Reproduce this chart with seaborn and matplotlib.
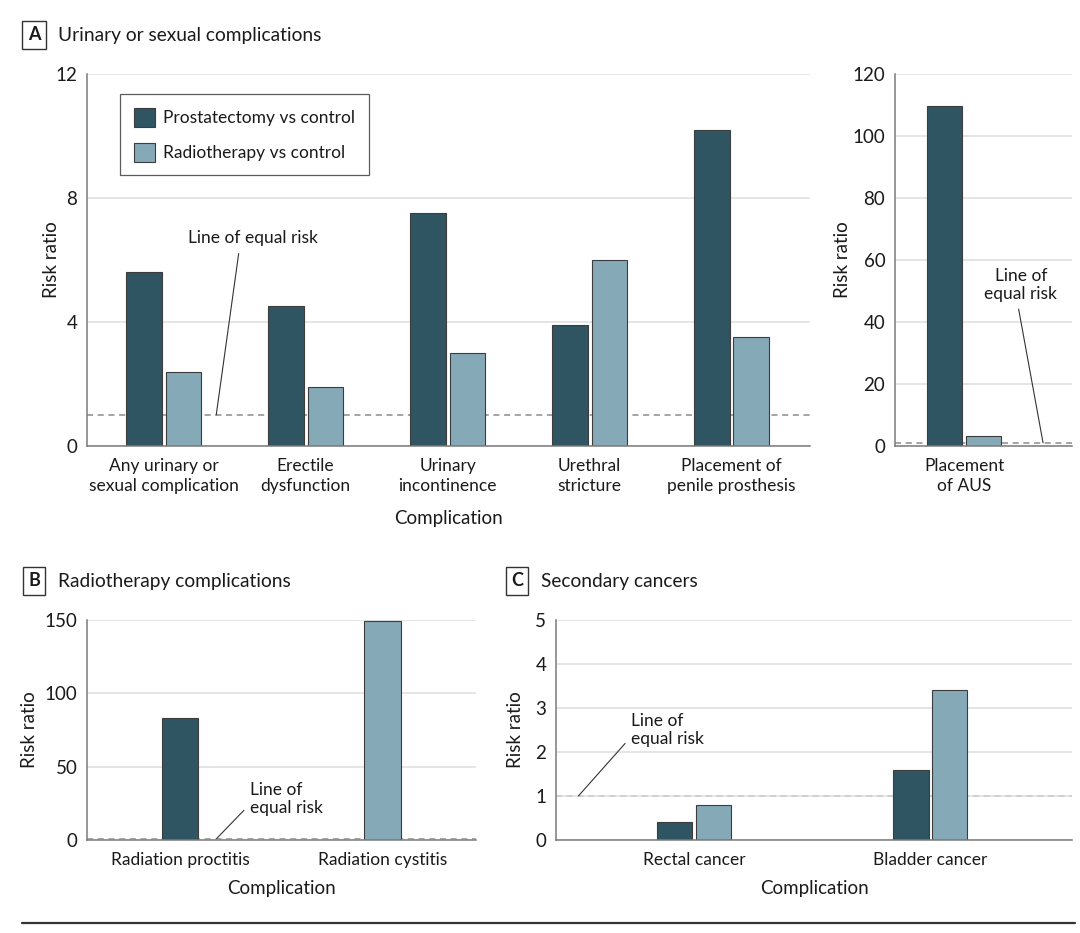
import numpy as np
import pandas as pd
import matplotlib
matplotlib.use("Agg")
import matplotlib.pyplot as plt
from matplotlib.lines import Line2D
import seaborn as sns

# panel A - urinary or sexual complications
urinary_labels = ["Any urinary or\nsexual complication", "Erectile\ndysfunction",
                  "Urinary\nincontinence", "Urethral\nstricture",
                  "Placement of\npenile prosthesis"]
prost_urinary = [5.6, 4.5, 7.5, 3.9, 10.2]
radio_urinary = [2.4, 1.9, 3.0, 6.0, 3.5]

# panel A (right) - artificial urinary sphincter
aus_labels = ["Placement\nof AUS"]
prost_aus = [109.7]
radio_aus = [3.2]

# panel B - radiotherapy complications
radiation_labels = ["Radiation proctitis", "Radiation cystitis"]
radiation_values = [83.0, 149.0]

# panel C - secondary cancers
cancer_labels = ["Rectal cancer", "Bladder cancer"]
prost_cancer = [0.4, 1.6]
radio_cancer = [0.8, 3.4]

series_names = ["Prostatectomy vs control", "Radiotherapy vs control"]

DARK = "#2f5562"
LIGHT = "#86a9b8"
EDGE = "#3c3c3c"
SPINE = "#7a7a7a"
GRID = "#dedede"
DASH = "#8c8c8c"
TEXT = "#1a1a1a"

sns.set_theme(style="white")
plt.rcParams["font.family"] = ["Lato", "DejaVu Sans"]
plt.rcParams["text.color"] = TEXT
plt.rcParams["axes.labelcolor"] = TEXT
plt.rcParams["xtick.color"] = TEXT
plt.rcParams["ytick.color"] = TEXT


def paired_frame(labels, first, second):
    return pd.DataFrame({
        "complication": labels * 2,
        "comparison": [series_names[0]] * len(labels) + [series_names[1]] * len(labels),
        "rr": first + second,
    })


def style_axes(ax, ymax, yticks, xlim, label_x):
    ax.set_ylim(0, ymax)
    ax.set_yticks(yticks)
    ax.set_xlim(*xlim)
    ax.grid(axis="y", color=GRID, lw=1.1)
    ax.grid(axis="x", visible=False)
    ax.set_axisbelow(True)
    for side in ["top", "right"]:
        ax.spines[side].set_visible(False)
    for side in ["left", "bottom"]:
        ax.spines[side].set_color(SPINE)
        ax.spines[side].set_linewidth(1.1)
    ax.tick_params(axis="x", length=0, labelsize=12.5, pad=9)
    ax.tick_params(axis="y", length=5, width=1, color=SPINE, labelsize=13.5, pad=2)
    for lab in ax.get_xticklabels():
        lab.set_linespacing(1.3)
    ax.set_ylabel("Risk ratio", fontsize=13.5)
    ax.yaxis.set_label_coords(label_x, 0.5)
    ax.axhline(1, color=DASH, lw=1.1, ls=(0, (4, 3)), zorder=0.5)


def equal_risk_note(ax, text, xy, xytext, ha, relpos):
    ax.annotate(text, xy=xy, xytext=xytext, ha=ha, va="center", fontsize=12.5,
                linespacing=1.15,
                arrowprops=dict(arrowstyle="-", color="#333333", lw=0.8,
                                shrinkA=3, shrinkB=0, relpos=relpos))


fig = plt.figure(figsize=(10.8, 9.33), dpi=100)

# ---- panel A main
ax_a = fig.add_axes([0.0806, 0.522, 0.669, 0.399])
df_a = paired_frame(urinary_labels, prost_urinary, radio_urinary)
sns.barplot(data=df_a, x="complication", y="rr", hue="comparison",
            palette=[DARK, LIGHT], saturation=1, width=0.56, gap=0.1,
            edgecolor=EDGE, linewidth=0.8, errorbar=None, ax=ax_a)
style_axes(ax_a, 12, [0, 4, 8, 12], (-0.54, 4.55), -0.037)
ax_a.set_xlabel("Complication", fontsize=13.5, labelpad=11)
leg = ax_a.legend(loc="upper left", bbox_to_anchor=(0.046, 0.945), fontsize=12.5,
                  frameon=True, fancybox=False, edgecolor="#333333",
                  handlelength=1.2, handleheight=1.3, borderpad=0.8,
                  labelspacing=0.9, handletextpad=0.45, borderaxespad=0)
leg.get_frame().set_linewidth(0.9)
equal_risk_note(ax_a, "Line of equal risk", (0.37, 1), (0.627, 6.7), "center", (0.4, 0))

# ---- panel A right (AUS)
ax_aus = fig.add_axes([0.8287, 0.522, 0.164, 0.399])
df_aus = paired_frame(aus_labels, prost_aus, radio_aus)
sns.barplot(data=df_aus, x="complication", y="rr", hue="comparison",
            palette=[DARK, LIGHT], saturation=1, width=0.56, gap=0.1,
            edgecolor=EDGE, linewidth=0.8, errorbar=None, legend=False, ax=ax_aus)
style_axes(ax_aus, 120, [0, 20, 40, 60, 80, 100, 120], (-0.5, 0.78), -0.249)
ax_aus.set_xlabel("")
equal_risk_note(ax_aus, "Line of\nequal risk", (0.57, 1), (0.41, 52), "center", (0.45, 0))

# ---- panel B
ax_b = fig.add_axes([0.0806, 0.0997, 0.360, 0.236])
df_b = pd.DataFrame({"complication": radiation_labels, "rr": radiation_values})
sns.barplot(data=df_b, x="complication", y="rr", hue="complication",
            palette=[DARK, LIGHT], saturation=1, width=0.18, edgecolor=EDGE,
            linewidth=0.8, errorbar=None, legend=False, ax=ax_b)
style_axes(ax_b, 150, [0, 50, 100, 150], (-0.46, 1.46), -0.126)
ax_b.set_xlabel("Complication", fontsize=13.5, labelpad=8)
equal_risk_note(ax_b, "Line of\nequal risk", (0.18, 1), (0.345, 28), "left", (0, 0.35))

# ---- panel C
ax_c = fig.add_axes([0.5148, 0.0997, 0.478, 0.236])
df_c = paired_frame(cancer_labels, prost_cancer, radio_cancer)
sns.barplot(data=df_c, x="complication", y="rr", hue="comparison",
            palette=[DARK, LIGHT], saturation=1, width=0.33, gap=0.1,
            edgecolor=EDGE, linewidth=0.8, errorbar=None, legend=False, ax=ax_c)
style_axes(ax_c, 5, [0, 1, 2, 3, 4, 5], (-0.585, 1.6), -0.062)
ax_c.set_xlabel("Complication", fontsize=13.5, labelpad=8)
equal_risk_note(ax_c, "Line of\nequal risk", (-0.49, 1), (-0.267, 2.5), "left", (0, 0.3))

# ---- panel headers
box = dict(boxstyle="square,pad=0.3", fc="white", ec="#333333", lw=1)
headers = [("A", "Urinary or sexual complications", 0.0315, 0.0537, 1 - 35 / 933),
           ("B", "Radiotherapy complications", 0.0315, 0.0537, 1 - 581 / 933),
           ("C", "Secondary cancers", 0.4787, 0.501, 1 - 581 / 933)]
for letter, title, bx, tx, ty in headers:
    fig.text(bx, ty, letter, fontsize=13, fontweight="bold", ha="center",
             va="center", bbox=box)
    fig.text(tx, ty, title, fontsize=13.8, ha="left", va="center")

fig.add_artist(Line2D([22 / 1080, 1075 / 1080], [1 - 923 / 933] * 2,
                      color="#333333", lw=1.6))

fig.savefig("out.png", dpi=100)
